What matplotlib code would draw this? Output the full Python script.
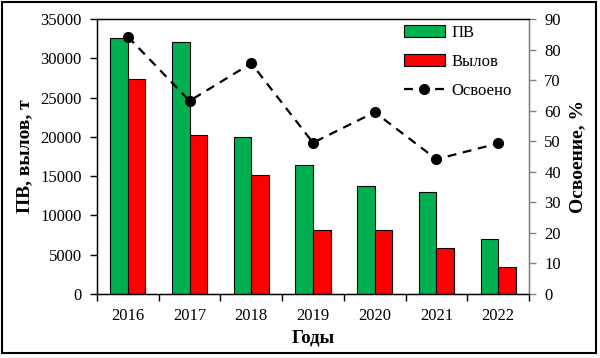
# ПВ, вылов и освоение по годам
import matplotlib.pyplot as plt
import numpy as np
from matplotlib.patches import Rectangle

years = ['2016', '2017', '2018', '2019', '2020', '2021', '2022']
pv = [32600, 32100, 20000, 16400, 13700, 13000, 7000]
catch = [27400, 20200, 15100, 8100, 8200, 5800, 3500]
mastered = [84.2, 63.2, 75.5, 49.5, 59.5, 44.1, 49.3]

plt.rcParams['font.family'] = ['Liberation Serif', 'DejaVu Serif']

fig = plt.figure(figsize=(6.0, 3.58), dpi=100)
ax = fig.add_axes([97 / 600, 1 - 294 / 358, 432 / 600, 275 / 358])
ax2 = ax.twinx()

x = np.arange(len(years))
w = 0.285
b1 = ax.bar(x - w / 2, pv, w, color='#00B050', edgecolor='black', linewidth=0.8, label='ПВ')
b2 = ax.bar(x + w / 2, catch, w, color='#FF0000', edgecolor='black', linewidth=0.8, label='Вылов')
ln, = ax2.plot(x, mastered, color='black', linestyle=(0, (4, 3)), linewidth=1.6,
               marker='o', markersize=7, label='Освоено')

# оси
ax.set_xlim(-0.5, len(years) - 0.5)
ax.set_ylim(0, 35000)
ax.set_yticks(np.arange(0, 35001, 5000))
ax.set_xticks(x)
ax.set_xticklabels(years)
ax.set_xticks(np.arange(-0.5, len(years), 1), minor=True)
ax.tick_params(axis='x', which='major', length=0, labelsize=12, pad=10)
ax.tick_params(axis='x', which='minor', length=5, width=1, direction='out')
ax.tick_params(axis='y', length=5, width=1, labelsize=12, pad=6)
ax2.set_ylim(0, 90)
ax2.set_yticks(np.arange(0, 91, 10))
ax2.tick_params(axis='y', length=5, width=1, labelsize=12, pad=6,
                colors='#808080', labelcolor='black')

for s in ['top', 'left', 'bottom']:
    ax.spines[s].set_linewidth(1.0)
ax2.spines['right'].set_color('#808080')
ax2.spines['right'].set_linewidth(1.0)

ax.set_xlabel('Годы', fontsize=13.5, fontweight='bold', labelpad=4)
ax.set_ylabel('ПВ, вылов, т', fontsize=14, fontweight='bold', labelpad=5)
ax2.set_ylabel('Освоение, %', fontsize=14, fontweight='bold', labelpad=6)

ax2.legend([b1, b2, ln], ['ПВ', 'Вылов', 'Освоено'], loc='upper left',
           bbox_to_anchor=(0.703, 0.99), frameon=False, fontsize=12,
           handlelength=2.45, handletextpad=0.4, labelspacing=0.78,
           borderpad=0.2, borderaxespad=0)

# рамка вокруг рисунка
fig.patches.append(Rectangle((2 / 600, 5 / 358), 594 / 600, 351 / 358,
                             transform=fig.transFigure, fill=False,
                             edgecolor='black', linewidth=1.5))

fig.savefig('out.png', dpi=100)
